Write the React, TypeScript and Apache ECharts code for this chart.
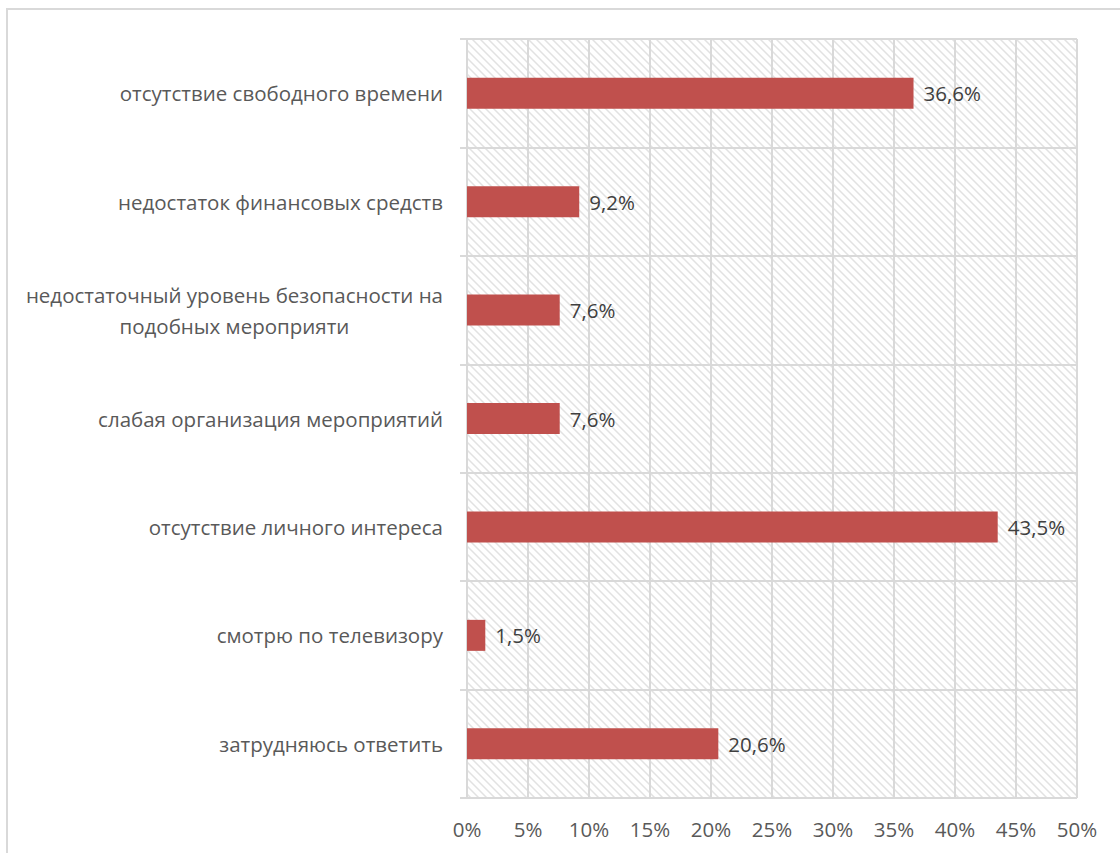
import React, { useEffect, useRef } from "react";
import * as echarts from "echarts";

const categories = [
  "отсутствие свободного времени",
  "недостаток финансовых средств",
  "недостаточный уровень безопасности на\nподобных мероприяти",
  "слабая организация мероприятий",
  "отсутствие личного интереса",
  "смотрю по телевизору",
  "затрудняюсь ответить",
];
const values = [36.6, 9.2, 7.6, 7.6, 43.5, 1.5, 20.6];
const xMin = 0;
const xMax = 50;
const xStep = 5;

function makeHatch(): HTMLCanvasElement {
  const n = 8;
  const c = document.createElement("canvas");
  c.width = n;
  c.height = n;
  const ctx = c.getContext("2d")!;
  ctx.fillStyle = "#ffffff";
  ctx.fillRect(0, 0, n, n);
  for (let y = 0; y < n; y++) {
    for (let x = 0; x < n; x++) {
      const d = (((x - y) % n) + n) % n;
      if (d < 3) {
        ctx.fillStyle = d === 1 ? "#e2e2e2" : "#efefef";
        ctx.fillRect(x, y, 1, 1);
      }
    }
  }
  return c;
}

export default function App() {
  const ref = useRef<HTMLDivElement>(null);
  useEffect(() => {
    document.body.style.margin = "0";
    if (!ref.current) return;
    const chart = echarts.init(ref.current, undefined, { renderer: "svg" });
    const grey = "#d9d9d9";
    const font = "'Open Sans', sans-serif";
    const fs = 20.5;
    chart.setOption({
      animation: false,
      backgroundColor: "#ffffff",
      grid: {
        left: 467,
        right: 43,
        top: 39,
        bottom: 55,
        show: true,
        borderWidth: 0,
        backgroundColor: { image: makeHatch(), repeat: "repeat" },
      },
      graphic: [
        {
          type: "rect",
          shape: { x: 7, y: 9, width: 1140, height: 900 },
          style: { fill: "none", stroke: grey, lineWidth: 2 },
          silent: true,
        },
      ],
      xAxis: {
        type: "value",
        min: xMin,
        max: xMax,
        interval: xStep,
        axisLine: { show: false },
        axisTick: { show: false },
        splitLine: { show: true, lineStyle: { color: grey, width: 2 } },
        axisLabel: {
          margin: 20,
          color: "#595959",
          fontSize: fs,
          fontFamily: font,
          formatter: (v: number) => `${v}%`,
        },
      },
      yAxis: {
        type: "category",
        inverse: true,
        data: categories,
        axisLine: { show: true, lineStyle: { color: grey, width: 2 } },
        axisTick: { show: true, length: 7, lineStyle: { color: grey, width: 2 } },
        splitLine: { show: true, lineStyle: { color: grey, width: 2 } },
        axisLabel: {
          margin: 24,
          color: "#595959",
          fontSize: fs,
          fontFamily: font,
          lineHeight: 31,
          formatter: (v: string) =>
            v
              .split("\n")
              .map((s) => `{c|${s}}`)
              .join("\n"),
          rich: {
            c: {
              align: "center",
              color: "#595959",
              fontSize: fs,
              fontFamily: font,
              lineHeight: 31,
            },
          },
        },
      },
      series: [
        {
          type: "bar",
          data: values,
          barWidth: 31,
          itemStyle: { color: "#c0504d" },
          label: {
            show: true,
            position: "right",
            distance: 10,
            color: "#404040",
            fontSize: fs,
            fontFamily: font,
            formatter: (p: any) => `${String(p.value).replace(".", ",")}%`,
          },
        },
      ],
    });
    return () => chart.dispose();
  }, []);
  return <div ref={ref} style={{ width: 1120, height: 853 }} />;
}
